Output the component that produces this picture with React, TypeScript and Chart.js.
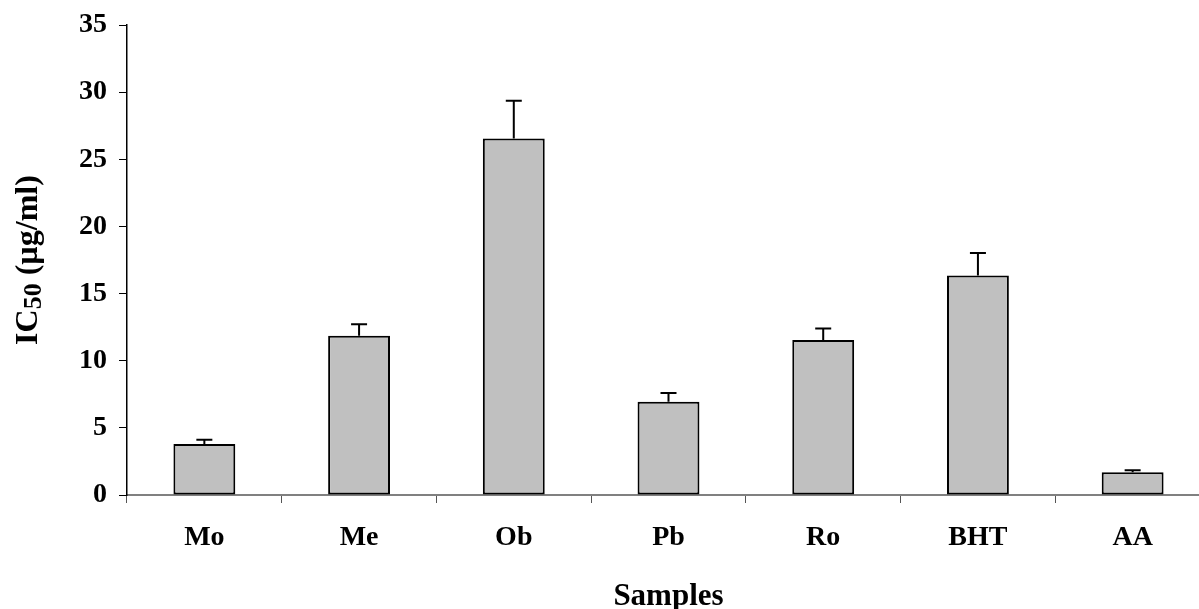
import React, { useEffect, useRef } from "react";
import { Chart, registerables } from "chart.js";

Chart.register(...registerables);

const categories = ["Mo", "Me", "Ob", "Pb", "Ro", "BHT", "AA"];
const ic50Values = [3.8, 11.85, 26.55, 6.95, 11.55, 16.35, 1.7];
const errorValues = [0.32, 0.86, 2.8, 0.65, 0.84, 1.68, 0.14];
const yTickValues = [0, 5, 10, 15, 20, 25, 30, 35];
const yTitleParts = [
  { text: "IC", sub: false },
  { text: "50", sub: true },
  { text: " (\u00B5g/ml)", sub: false },
];

const FONT = '"Liberation Serif", "Times New Roman", serif';

const errorBarPlugin = {
  id: "errorBars",
  afterDatasetsDraw(chart: any) {
    const ctx = chart.ctx;
    const yScale = chart.scales.y;
    const meta = chart.getDatasetMeta(0);
    ctx.save();
    ctx.strokeStyle = "#000";
    ctx.lineWidth = 2;
    meta.data.forEach((bar: any, i: number) => {
      const x = bar.x;
      const yTop = yScale.getPixelForValue(ic50Values[i]);
      const yErr = yScale.getPixelForValue(ic50Values[i] + errorValues[i]);
      ctx.beginPath();
      ctx.moveTo(x, yTop);
      ctx.lineTo(x, yErr);
      ctx.moveTo(x - 8, yErr);
      ctx.lineTo(x + 8, yErr);
      ctx.stroke();
    });
    ctx.restore();
  },
};

const yTitlePlugin = {
  id: "yTitle",
  afterDraw(chart: any) {
    const ctx = chart.ctx;
    const area = chart.chartArea;
    const cy = (area.top + area.bottom) / 2;
    const mainFont = `bold 32px ${FONT}`;
    const subFont = `bold 26px ${FONT}`;
    ctx.save();
    let total = 0;
    yTitleParts.forEach((p) => {
      ctx.font = p.sub ? subFont : mainFont;
      total += ctx.measureText(p.text).width;
    });
    ctx.translate(37, cy);
    ctx.rotate(-Math.PI / 2);
    ctx.fillStyle = "#000";
    ctx.textBaseline = "alphabetic";
    ctx.textAlign = "left";
    let x = -total / 2;
    yTitleParts.forEach((p) => {
      ctx.font = p.sub ? subFont : mainFont;
      ctx.fillText(p.text, x, p.sub ? 4 : 0);
      x += ctx.measureText(p.text).width;
    });
    ctx.restore();
  },
};

export default function App() {
  const canvasRef = useRef<HTMLCanvasElement | null>(null);

  useEffect(() => {
    if (!canvasRef.current) return;
    const chart = new Chart(canvasRef.current, {
      type: "bar",
      data: {
        labels: categories,
        datasets: [
          {
            data: ic50Values,
            backgroundColor: "#C0C0C0",
            borderColor: "#000000",
            borderWidth: 2,
            borderSkipped: false,
            barPercentage: 0.4,
            categoryPercentage: 1.0,
          },
        ],
      },
      options: {
        animation: false,
        responsive: true,
        maintainAspectRatio: false,
        layout: { padding: { top: 25, left: 0, right: 0, bottom: 0 } },
        plugins: {
          legend: { display: false },
          tooltip: { enabled: false },
        },
        scales: {
          x: {
            offset: true,
            afterFit: (scale: any) => {
              scale.height = 114;
            },
            grid: {
              offset: true,
              drawOnChartArea: false,
              drawTicks: true,
              tickLength: 8,
              color: "#555555",
              lineWidth: 1,
            },
            border: { display: true, color: "#808080", width: 2 },
            ticks: {
              color: "#000",
              padding: 18,
              font: { family: FONT, size: 28, weight: "bold" },
              maxRotation: 0,
            },
            title: {
              display: true,
              text: "Samples",
              color: "#000",
              padding: { top: 0, bottom: 0 },
              font: { family: FONT, size: 31, weight: "bold", lineHeight: 0.75 },
            },
          },
          y: {
            min: 0,
            max: 35,
            afterFit: (scale: any) => {
              scale.width = 127;
              scale.paddingTop = 0;
              scale.paddingBottom = 0;
            },
            afterBuildTicks: (scale: any) => {
              scale.ticks = yTickValues.map((v) => ({ value: v }));
            },
            grid: {
              drawOnChartArea: false,
              drawTicks: true,
              tickLength: 8,
              color: "#000",
              lineWidth: 1,
            },
            border: { display: true, color: "#000", width: 1.5 },
            ticks: {
              color: "#000",
              padding: 12,
              font: { family: FONT, size: 28, weight: "bold" },
            },
            title: { display: false },
          },
        },
      },
      plugins: [errorBarPlugin, yTitlePlugin],
    });
    return () => chart.destroy();
  }, []);

  return (
    <div
      style={{
        position: "fixed",
        left: 0,
        top: 0,
        width: 1199,
        height: 609,
        overflow: "hidden",
        background: "#fff",
      }}
    >
      <div style={{ position: "relative", width: 1210, height: 609 }}>
        <canvas ref={canvasRef} />
      </div>
    </div>
  );
}
